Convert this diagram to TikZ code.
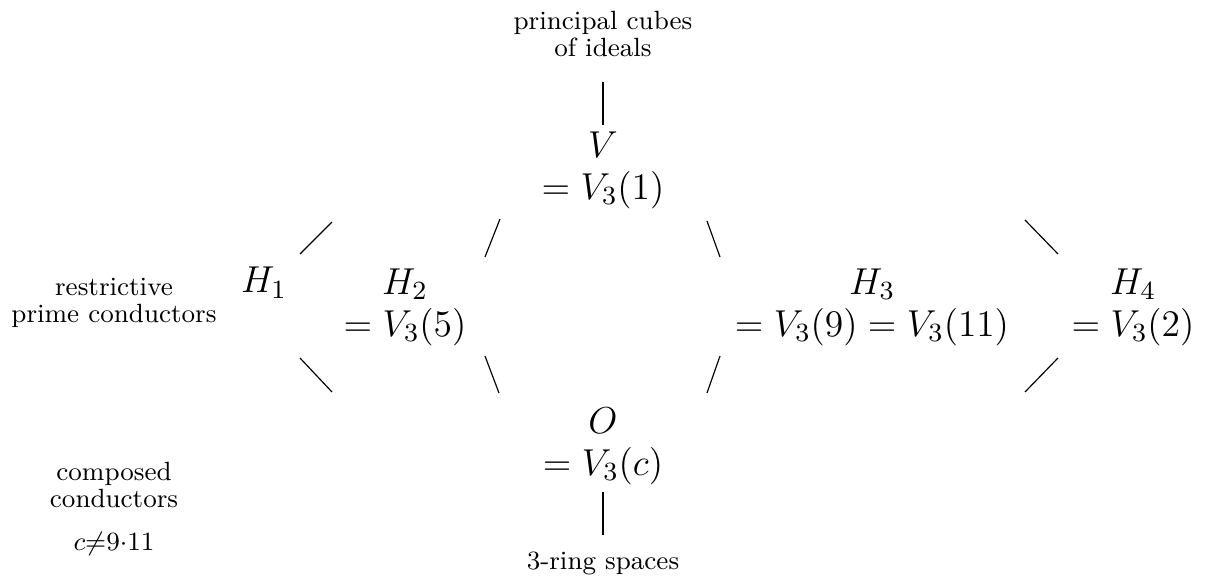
\RequirePackage{fix-cm}
\documentclass[tikz,border=0pt]{standalone}
\usepackage{amsmath}
\usepackage{tikz}
\tikzset{
  space/.style={align=center,font=\fontsize{12.8}{14.3}\selectfont,inner sep=0pt},
  note/.style={align=center,font=\fontsize{9}{9}\selectfont,inner sep=0pt},
  link/.style={draw=black,line width=0.4pt}
}
\begin{document}
\begin{tikzpicture}
  \useasboundingbox (-7.236,-4.944) rectangle (7.248,2.04);
  \node[space] (V) at (0,0) {$V$\\$=V_3(1)$};
  \node[note] (principal) at (0,1.632) {principal cubes\\of ideals};
  \node[space] (H1) at (-4.068,-1.356) {$H_1$};
  \node[space] (H2) at (-2.376,-1.644) {$H_2$\\$=V_3(5)$};
  \node[space] (H3) at (3.228,-1.644) {$H_3$\\$=V_3(9)=V_3(11)$};
  \node[space] (H4) at (6.36,-1.644) {$H_4$\\$=V_3(2)$};
  \node[space] (O) at (0,-3.312) {$O$\\$=V_3(c)$};
  \node[note] (rings) at (0,-4.716) {3-ring spaces};
  \node[note] (restrictive) at (-5.868,-1.596) {restrictive\\prime conductors};
  \node[note] (composed) at (-5.868,-3.78) {composed\\conductors};
  \node[note] (cnot) at (-5.868,-4.488) {$c{\neq}9{\cdot}11$};

  \draw[link,shorten <=0.3cm,shorten >=0.07cm] (principal) -- (V);
  \draw[link,shorten <=0.084cm,shorten >=0.19cm] (O) -- (rings);

  \coordinate (h1up) at (-3.636,-1.008);   \coordinate (h1up') at (-3.252,-0.624);
  \coordinate (vh2) at (-1.236,-0.588);    \coordinate (vh2') at (-1.416,-1.044);
  \coordinate (vh3) at (1.248,-0.612);     \coordinate (vh3') at (1.404,-1.044);
  \coordinate (h4up) at (5.064,-0.6);      \coordinate (h4up') at (5.46,-1.008);
  \coordinate (h1lo) at (-3.636,-2.256);   \coordinate (h1lo') at (-3.252,-2.664);
  \coordinate (h2o) at (-1.416,-2.232);    \coordinate (h2o') at (-1.248,-2.676);
  \coordinate (h3o) at (1.404,-2.232);     \coordinate (h3o') at (1.248,-2.676);
  \coordinate (h4lo) at (5.46,-2.256);     \coordinate (h4lo') at (5.064,-2.664);
  \draw[link] (h1up) -- (h1up');
  \draw[link] (vh2) -- (vh2');
  \draw[link] (vh3) -- (vh3');
  \draw[link] (h4up) -- (h4up');
  \draw[link] (h1lo) -- (h1lo');
  \draw[link] (h2o) -- (h2o');
  \draw[link] (h3o) -- (h3o');
  \draw[link] (h4lo) -- (h4lo');
\end{tikzpicture}
\end{document}
